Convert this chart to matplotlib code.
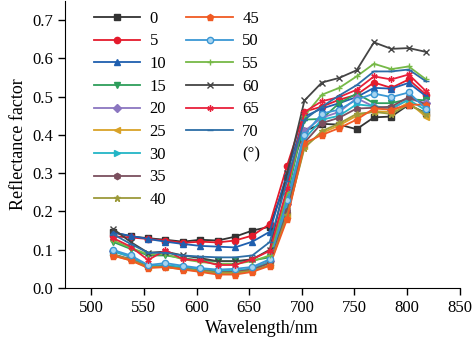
import matplotlib
matplotlib.use("Agg")
import matplotlib.pyplot as plt
from matplotlib.lines import Line2D

# wavelength sampling (nm)
wavelength = [521, 537.5, 554, 570.5, 587, 603.5, 620, 636.5, 653, 669.5,
              686, 702.5, 719, 735.5, 752, 768.5, 785, 801.5, 818]

# reflectance per viewing angle (degrees)
r0 = [0.145, 0.135, 0.130, 0.126, 0.121, 0.126, 0.124, 0.134, 0.150, 0.160,
      0.290, 0.410, 0.429, 0.427, 0.415, 0.446, 0.448, 0.479, 0.457]
r5 = [0.135, 0.132, 0.128, 0.124, 0.118, 0.121, 0.119, 0.124, 0.137, 0.167,
      0.320, 0.461, 0.474, 0.492, 0.505, 0.537, 0.523, 0.545, 0.505]
r10 = [0.145, 0.136, 0.128, 0.121, 0.115, 0.110, 0.108, 0.106, 0.121, 0.147,
       0.300, 0.448, 0.469, 0.483, 0.499, 0.523, 0.521, 0.536, 0.501]
r15 = [0.120, 0.102, 0.085, 0.085, 0.078, 0.072, 0.070, 0.070, 0.072, 0.080,
       0.240, 0.440, 0.442, 0.483, 0.508, 0.483, 0.483, 0.494, 0.490]
r20 = [0.097, 0.080, 0.057, 0.058, 0.053, 0.048, 0.044, 0.044, 0.052, 0.070,
       0.220, 0.410, 0.445, 0.460, 0.496, 0.474, 0.466, 0.494, 0.483]
r25 = [0.085, 0.072, 0.054, 0.054, 0.049, 0.044, 0.038, 0.038, 0.044, 0.060,
       0.190, 0.370, 0.405, 0.425, 0.450, 0.462, 0.460, 0.485, 0.447]
r30 = [0.095, 0.082, 0.058, 0.060, 0.055, 0.050, 0.045, 0.045, 0.050, 0.068,
       0.210, 0.390, 0.440, 0.450, 0.480, 0.475, 0.470, 0.492, 0.464]
r35 = [0.088, 0.075, 0.055, 0.056, 0.050, 0.046, 0.041, 0.042, 0.048, 0.065,
       0.200, 0.380, 0.431, 0.445, 0.469, 0.471, 0.474, 0.499, 0.479]
r40 = [0.087, 0.074, 0.055, 0.055, 0.050, 0.045, 0.040, 0.040, 0.045, 0.060,
       0.190, 0.366, 0.410, 0.430, 0.455, 0.460, 0.455, 0.480, 0.455]
r45 = [0.084, 0.072, 0.052, 0.055, 0.048, 0.042, 0.035, 0.035, 0.042, 0.058,
       0.180, 0.379, 0.400, 0.418, 0.440, 0.469, 0.466, 0.479, 0.479]
r50 = [0.099, 0.085, 0.060, 0.065, 0.058, 0.052, 0.048, 0.050, 0.055, 0.075,
       0.230, 0.400, 0.456, 0.466, 0.492, 0.508, 0.499, 0.511, 0.468]
r55 = [0.124, 0.105, 0.088, 0.088, 0.075, 0.068, 0.063, 0.063, 0.070, 0.085,
       0.250, 0.450, 0.505, 0.523, 0.553, 0.586, 0.572, 0.579, 0.545]
r60 = [0.154, 0.120, 0.092, 0.095, 0.085, 0.078, 0.070, 0.070, 0.075, 0.100,
       0.300, 0.490, 0.537, 0.549, 0.569, 0.642, 0.625, 0.627, 0.617]
r65 = [0.130, 0.108, 0.073, 0.099, 0.075, 0.072, 0.060, 0.060, 0.075, 0.097,
       0.260, 0.460, 0.488, 0.499, 0.518, 0.553, 0.545, 0.558, 0.514]
r70 = [0.140, 0.115, 0.092, 0.092, 0.085, 0.082, 0.080, 0.080, 0.085, 0.120,
       0.280, 0.440, 0.474, 0.503, 0.530, 0.566, 0.566, 0.571, 0.540]

angles = ["0", "5", "10", "15", "20", "25", "30", "35", "40",
          "45", "50", "55", "60", "65", "70"]
series = [r0, r5, r10, r15, r20, r25, r30, r35, r40,
          r45, r50, r55, r60, r65, r70]

colors = ["#333333", "#E41A2C", "#1F5FAF", "#2E9E5B", "#8B76C0", "#D9A227",
          "#23B5C6", "#7B4F5E", "#9C9A3A", "#F05A23", "#3A97D4", "#76B947",
          "#444444", "#E8203A", "#2C6DA6"]
markers = ["s", "o", "^", "v", "D", "<", ">", "h", "*", "p", "o", "+",
           "x", (6, 2, 0), "_"]

plt.rcParams["font.family"] = ["Liberation Serif", "DejaVu Serif"]
plt.rcParams["font.size"] = 12

fig = plt.figure(figsize=(4.74, 3.42), dpi=100)
ax = fig.add_axes([0.137, 0.158, 0.833, 0.839])

handles = []
for lab, ys, c, m in zip(angles, series, colors, markers):
    kw = {}
    if lab == "50":
        kw["markerfacecolor"] = "#a8d4f0"
    h, = ax.plot(wavelength, ys, color=c, marker=m, markersize=4.5,
                 linewidth=1.3, label=lab, **kw)
    handles.append(h)

blank = Line2D([], [], linestyle="none")
leg_handles = handles[:9] + handles[9:] + [blank, blank, blank]
leg_labels = angles[:9] + angles[9:] + ["(°)", "", ""]
ax.legend(leg_handles, leg_labels, ncol=2, loc="upper left",
          bbox_to_anchor=(0.052, 0.995), frameon=False, borderpad=0,
          handlelength=2.8, handletextpad=0.55, labelspacing=0.4,
          columnspacing=1.2, fontsize=12)

ax.set_xlim(475, 850)
ax.set_ylim(0, 0.75)
ax.set_xticks([500, 550, 600, 650, 700, 750, 800, 850])
ax.set_yticks([0.0, 0.1, 0.2, 0.3, 0.4, 0.5, 0.6, 0.7])
ax.yaxis.set_major_formatter(plt.FormatStrFormatter("%.1f"))
ax.spines["top"].set_visible(False)
ax.spines["right"].set_visible(False)
ax.tick_params(direction="out", length=5, width=1, labelsize=12)
ax.set_xlabel("Wavelength/nm", fontsize=13, labelpad=3)
ax.set_ylabel("Reflectance factor", fontsize=13, labelpad=4)

fig.savefig("out.png", dpi=100)
